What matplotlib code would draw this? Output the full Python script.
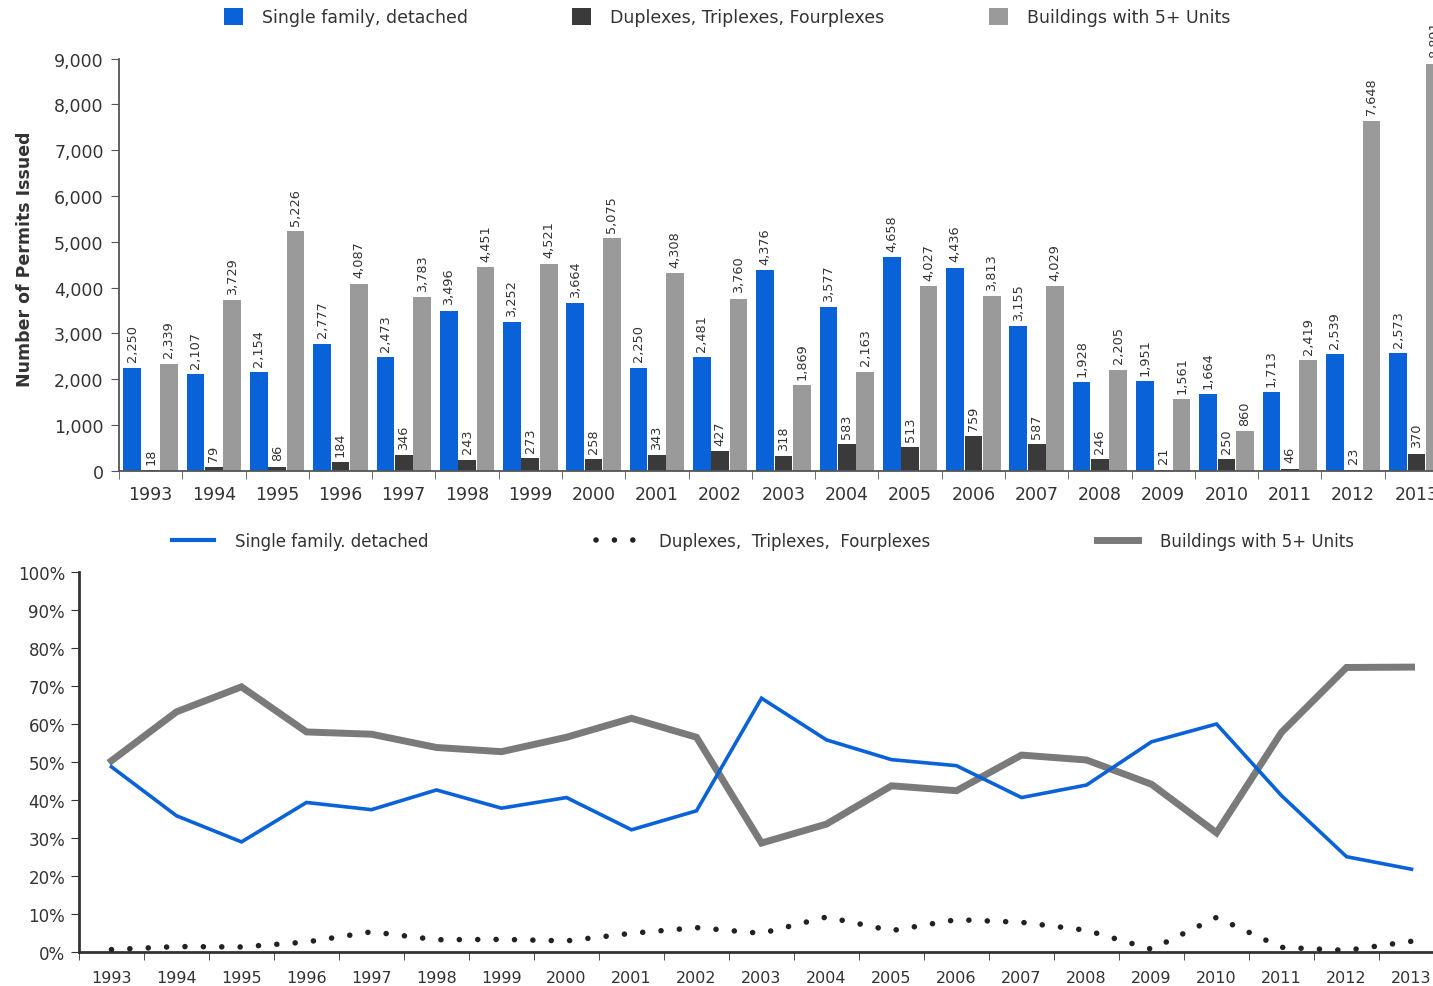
import numpy as np
import matplotlib
matplotlib.use('Agg')
import matplotlib.pyplot as plt
from matplotlib.patches import Patch
from matplotlib.lines import Line2D
from matplotlib.ticker import FuncFormatter

# permits issued per year
years = ['1993', '1994', '1995', '1996', '1997', '1998', '1999', '2000', '2001', '2002', '2003',
         '2004', '2005', '2006', '2007', '2008', '2009', '2010', '2011', '2012', '2013']
single = [2250, 2107, 2154, 2777, 2473, 3496, 3252, 3664, 2250, 2481, 4376,
          3577, 4658, 4436, 3155, 1928, 1951, 1664, 1713, 2539, 2573]
duplex = [18, 79, 86, 184, 346, 243, 273, 258, 343, 427, 318,
          583, 513, 759, 587, 246, 21, 250, 46, 23, 370]
multi = [2339, 3729, 5226, 4087, 3783, 4451, 4521, 5075, 4308, 3760, 1869,
         2163, 4027, 3813, 4029, 2205, 1561, 860, 2419, 7648, 8891]

# share of permits (%)
single_pct = [48.7, 35.8, 28.9, 39.3, 37.4, 42.6, 37.8, 40.6, 32.1, 37.1, 66.8,
              55.8, 50.6, 49.0, 40.6, 43.9, 55.3, 60.0, 41.1, 25.0, 21.7]
duplex_pct = [0.5, 1.3, 1.2, 2.5, 5.2, 3.1, 3.2, 2.8, 4.8, 6.3, 4.8,
              9.1, 5.5, 8.4, 7.7, 5.6, 0.6, 9.0, 1.1, 0.3, 2.7]
multi_pct = [50.3, 63.2, 69.8, 57.9, 57.3, 53.8, 52.7, 56.5, 61.5, 56.5, 28.6,
             33.6, 43.7, 42.4, 51.8, 50.5, 44.1, 31.3, 57.8, 74.9, 75.0]

series_names = ['Single family, detached', 'Duplexes, Triplexes, Fourplexes', 'Buildings with 5+ Units']

BLUE = '#0a62d8'
DARK = '#3a3a3a'
GREY = '#9a9a9a'
LINE_GREY = '#7a7a7a'
TXT = '#333333'
DOTS = (0, (0.01, 3.3))

plt.rcParams['font.family'] = 'DejaVu Sans'
fig = plt.figure(figsize=(14.33, 9.87), dpi=100)

# ---------------- top: bar chart ----------------
ax = fig.add_axes([0.0830, 0.5221, 0.9275, 0.4175])
x = np.arange(len(years))
w = 0.28
off = 0.29
for vals, dx, col in [(single, -off, BLUE), (duplex, 0, DARK), (multi, off, GREY)]:
    bars = ax.bar(x + dx, vals, width=w, color=col, zorder=2)
    for b, v in zip(bars, vals):
        ax.annotate(f'{v:,}', (b.get_x() + b.get_width() / 2, v), xytext=(0, 4.5),
                    textcoords='offset points', rotation=90, ha='center', va='bottom',
                    fontsize=9.3, color=TXT, zorder=3,
                    bbox=dict(facecolor='white', edgecolor='none', pad=0.6))

ax.set_xlim(-0.5, 20.5)
ax.set_ylim(0, 9000)
ax.set_yticks(range(0, 9001, 1000))
ax.yaxis.set_major_formatter(FuncFormatter(lambda v, p: f'{int(v):,}'))
ax.set_xticks(x)
ax.set_xticklabels(years)
ax.set_xticks(np.arange(-0.5, 21, 1), minor=True)
ax.tick_params(axis='x', which='major', length=0, pad=10, labelsize=12.5, colors=TXT)
ax.tick_params(axis='x', which='minor', length=6, color='#555555')
ax.tick_params(axis='y', length=6, labelsize=12.5, colors=TXT, pad=5, color='#555555')
for s in ['top', 'right']:
    ax.spines[s].set_visible(False)
for s in ['left', 'bottom']:
    ax.spines[s].set_color('#555555')
    ax.spines[s].set_linewidth(1.3)

fig.text(0.0175, 0.7376, 'Number of Permits Issued', rotation=90, ha='center', va='center',
         fontsize=12.5, fontweight='bold', color=TXT)

handles = [Patch(facecolor=BLUE), Patch(facecolor=DARK), Patch(facecolor=GREY)]
fig.legend(handles, series_names, loc='center', bbox_to_anchor=(0.5073, 0.9818), ncol=3,
           frameon=False, fontsize=12.5, handlelength=1.1, handleheight=1.1,
           handletextpad=1.1, columnspacing=6.0, labelcolor=TXT)

# ---------------- bottom: share lines ----------------
ax2 = fig.add_axes([0.0551, 0.03495, 0.9526, 0.3842])
ax2.plot(x, multi_pct, color=LINE_GREY, lw=5, solid_joinstyle='miter', zorder=2)
ax2.plot(x, single_pct, color=BLUE, lw=2.6, solid_joinstyle='miter', zorder=3)
ax2.plot(x, duplex_pct, color='#222222', lw=4, linestyle=DOTS,
         dash_capstyle='round', zorder=3)

ax2.set_xlim(-0.5, 20.5)
ax2.set_ylim(0, 100)
ax2.set_yticks(range(0, 101, 10))
ax2.set_yticklabels([f'{v}%' for v in range(0, 101, 10)])
ax2.set_xticks(x)
ax2.set_xticklabels(years)
ax2.set_xticks(np.arange(-0.5, 21, 1), minor=True)
ax2.tick_params(axis='x', which='major', length=0, pad=13, labelsize=11.5, colors=TXT)
ax2.tick_params(axis='x', which='minor', length=6, color='#333333')
ax2.tick_params(axis='y', length=6, labelsize=12, colors=TXT, pad=4, color='#333333')
for s in ['top', 'right']:
    ax2.spines[s].set_visible(False)
for s in ['left', 'bottom']:
    ax2.spines[s].set_color('#333333')
    ax2.spines[s].set_linewidth(2)

line_handles = [Line2D([], [], color=BLUE, lw=3),
                Line2D([], [], color='#222222', lw=4, linestyle=DOTS, dash_capstyle='round'),
                Line2D([], [], color=LINE_GREY, lw=5)]
line_names = ['Single family. detached', 'Duplexes,  Triplexes,  Fourplexes', 'Buildings with 5+ Units']
fig.legend(line_handles, line_names, loc='center', bbox_to_anchor=(0.5325, 0.4508), ncol=3,
           frameon=False, fontsize=12, handlelength=2.5, handletextpad=1.3,
           columnspacing=10, labelcolor=TXT)

fig.savefig('out.png', dpi=100)
